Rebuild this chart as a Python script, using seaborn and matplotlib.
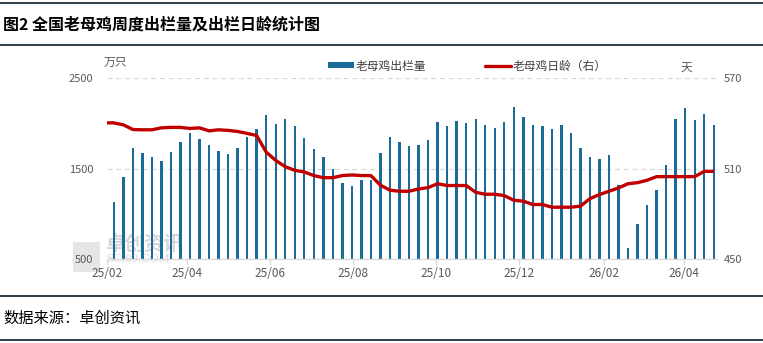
import numpy as np
import pandas as pd
import matplotlib
matplotlib.use("Agg")
import matplotlib.pyplot as plt
import matplotlib.dates as mdates
import seaborn as sns
from matplotlib.lines import Line2D
from matplotlib.patches import Patch, Rectangle

# ---------------- data ----------------
week_dates = pd.date_range("2025-02-06", periods=64, freq="7D")
slaughter = [1129, 1404, 1724, 1673, 1625, 1584, 1680, 1790, 1890, 1823,
             1757, 1691, 1658, 1724, 1853, 1941, 2099, 1989, 2044, 1967,
             1834, 1713, 1625, 1500, 1338, 1305, 1371, 1370, 1673, 1845,
             1790, 1746, 1757, 1812, 2011, 1967, 2022, 2000, 2044, 1978,
             1945, 2011, 2187, 2077, 1978, 1967, 1934, 1978, 1890, 1724,
             1625, 1603, 1647, 1316, 621, 886, 1096, 1265, 1537, 2055,
             2176, 2033, 2110, 1978]

age_dates = [pd.Timestamp("2025-02-01")] + list(week_dates)
age = [540.4,
       540.4, 539.1, 536.0, 535.8, 535.8, 537.1, 537.4, 537.4, 536.7, 537.1,
       535.1, 535.8, 535.4, 534.7, 533.4, 532.0, 521.0, 515.5, 511.3, 508.9,
       507.8, 505.4, 504.0, 504.0, 505.4, 505.8, 505.4, 505.4, 499.0, 495.7,
       495.0, 495.0, 496.5, 497.4, 500.0, 498.8, 498.8, 498.8, 494.3, 493.0,
       493.0, 492.1, 489.0, 488.4, 486.2, 486.2, 484.4, 484.4, 484.4, 485.1,
       490.1, 492.8, 495.0, 497.2, 500.0, 500.7, 502.3, 504.7, 504.7, 504.7,
       504.7, 504.7, 508.2, 508.2]

tick_dates = ["2025-02-01", "2025-04-01", "2025-06-01", "2025-08-01",
              "2025-10-01", "2025-12-01", "2026-02-01", "2026-04-01"]
tick_labels = ["25/02", "25/04", "25/06", "25/08", "25/10", "25/12", "26/02", "26/04"]

left_ticks = [500, 1500, 2500]
right_ticks = [450, 510, 570]

title = "图2 全国老母鸡周度出栏量及出栏日龄统计图"
bar_label = "老母鸡出栏量"
line_label = "老母鸡日龄（右）"
source = "数据来源：卓创资讯"

BLUE = "#1A6B97"
RED = "#C00000"
GREY = "#595959"

# ---------------- plot ----------------
sns.set_theme(style="white")
plt.rcParams["font.family"] = ["Noto Sans CJK SC", "DejaVu Sans"]

W, H = 763, 343
fig = plt.figure(figsize=(W / 100, H / 100), dpi=100)
ax = fig.add_axes([107 / W, (H - 259) / H, (716.5 - 107) / W, (259 - 78.3) / H])
ax.set_facecolor("none")

df_bar = pd.DataFrame({"x": mdates.date2num(week_dates), "v": slaughter})
sns.barplot(data=df_bar, x="x", y="v", native_scale=True, width=0.25,
            color=BLUE, saturation=1, linewidth=0, ax=ax, zorder=2)

ax2 = ax.twinx()
ax2.set_facecolor("none")
df_line = pd.DataFrame({"x": mdates.date2num(age_dates), "v": age})
sns.lineplot(data=df_line, x="x", y="v", color=RED, linewidth=2.4, ax=ax2,
             solid_capstyle="butt", solid_joinstyle="round")

ax.set_xlim(mdates.date2num(pd.Timestamp("2025-02-01")),
            mdates.date2num(pd.Timestamp("2026-04-25")))
ax.set_xticks(mdates.date2num(pd.to_datetime(tick_dates)))
ax.set_xticklabels(tick_labels)
ax.set_ylim(500, 2500)
ax.set_yticks(left_ticks)
ax2.set_ylim(450, 570)
ax2.set_yticks(right_ticks)

for a in (ax, ax2):
    a.set_xlabel("")
    a.set_ylabel("")
    for s in a.spines.values():
        s.set_visible(False)
ax.spines["bottom"].set_visible(True)
ax.spines["bottom"].set_color("#d9d9d9")
ax.spines["bottom"].set_linewidth(1)

ax.set_axisbelow(True)
ax.yaxis.grid(True, linestyle=(0, (4, 3)), color="#d9d9d9", linewidth=0.9)
ax.xaxis.grid(False)
ax2.grid(False)

ax.tick_params(axis="y", length=0, pad=10, labelsize=8, labelcolor=GREY)
ax2.tick_params(axis="y", length=0, pad=5, labelsize=8, labelcolor=GREY)
ax.tick_params(axis="x", length=4, width=1, color="#d9d9d9", pad=2,
               labelsize=8.5, labelcolor=GREY, bottom=True)

# unit labels
fig.text(115 / W, 1 - 62 / H, "万只", ha="center", va="center", fontsize=8.5, color=GREY)
fig.text(686 / W, 1 - 67 / H, "天", ha="center", va="center", fontsize=8.5, color=GREY)

# legend
handles = [Patch(facecolor=BLUE, edgecolor="none"),
           Line2D([0], [0], color=RED, linewidth=2.4)]
leg = fig.legend(handles=handles, labels=[bar_label, line_label], loc="center",
                 bbox_to_anchor=(467.5 / W, 1 - 66 / H), ncol=2, frameon=False,
                 fontsize=8.5, handlelength=2.2, handleheight=0.45,
                 handletextpad=0.15, columnspacing=5.0, borderpad=0)
for t in leg.get_texts():
    t.set_color("#404040")

# title, rules and source
fig.text(3 / W, 1 - 25 / H, title, ha="left", va="center", fontsize=11.5,
         fontweight="bold", color="black")
for yy in (2.7, 44.7, 295.7, 339.5):
    fig.add_artist(Line2D([0, 1], [1 - yy / H] * 2, transform=fig.transFigure,
                          color="#1F2D3D", linewidth=1.3))
fig.text(3 / W, 1 - 318 / H, source, ha="left", va="center", fontsize=11, color="black")

# watermark
fig.add_artist(Rectangle((73 / W, 1 - 272 / H), 27 / W, 30 / H,
                         transform=fig.transFigure, facecolor="#e6e6e6",
                         edgecolor="none", zorder=-2))
fig.text(105 / W, 1 - 244 / H, "卓创资讯", ha="left", va="center", fontsize=14,
         fontweight="bold", color="#d6d6d6", zorder=-1)
fig.text(106 / W, 1 - 258.5 / H, "SCI99.COM", ha="left", va="center", fontsize=9,
         family=["Liberation Serif", "DejaVu Serif"], color="#d6d6d6", zorder=-1)

fig.savefig("out.png", dpi=100)
